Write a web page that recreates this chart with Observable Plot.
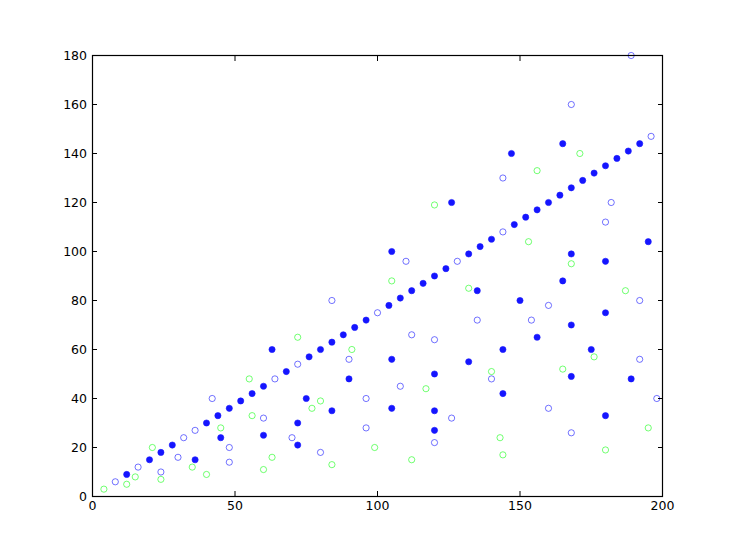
<!DOCTYPE html>
<html><head><meta charset="utf-8">
<script src="https://cdn.jsdelivr.net/npm/d3@7"></script>
<script src="https://cdn.jsdelivr.net/npm/@observablehq/plot@0.6"></script>
<style>body{margin:0;background:#fff} #chart svg{font-family:"DejaVu Sans";}</style>
</head><body><div id="chart"></div>
<script>
// Green open circles
const greenX = [4,12,15,24,21,40,35,60,45,56,84,63,55,80,112,77,72,144,99,91,140,180,117,105,132,176,143,120,168,165,153,156,195,187,171];
const greenY = [3,5,8,7,20,9,12,11,28,33,13,16,48,39,15,36,65,17,20,60,51,19,44,88,85,57,24,119,95,52,104,133,28,84,140];
// Blue open circles
const openX = [8,16,32,36,64,72,100,128,144,196, 24,48,96,108,192, 30,60,120,135, 48,96,192, 42,84,168,189, 80,160, 70,140, 120, 90,180, 112, 168, 126, 110, 160, 144, 154, 198, 182];
const openY = [6,12,24,27,48,54,75,96,108,147, 10,20,40,45,80, 16,32,64,72, 14,28,56, 40,80,160,180, 18,36, 24,48, 22, 56,112, 66, 26, 32, 96, 78, 130, 72, 40, 120];
// Blue filled circles
const filledX = [12,20,24,28,40,44,48,52,56,60,68,76,80,84,88,92,96,104,108,112,116,120,124,132,136,140,148,152,156,160,164,168,172,176,180,184,188,192,
  36,60,72,84,120,132,144,156,168,180, 45,75,90,105,150,165,180,195, 72,120,144,168, 63,105,126,147, 120, 105,175, 180, 135, 168, 189, 165];
const filledY = [9,15,18,21,30,33,36,39,42,45,51,57,60,63,66,69,72,78,81,84,87,90,93,99,102,105,111,114,117,120,123,126,129,132,135,138,141,144,
  15,25,30,35,50,55,60,65,70,75, 24,40,48,56,80,88,96,104, 21,35,42,49, 60,100,120,140, 27, 36,60, 33, 84, 99, 48, 144];

const xTicks = [0,50,100,150,200];
const yTicks = [0,20,40,60,80,100,120,140,160,180];

const toRows = (xs, ys) => xs.map((x, i) => ({x, y: ys[i]}));
const green = toRows(greenX, greenY);
const open = toRows(openX, openY);
const filled = toRows(filledX, filledY);

const chart = Plot.plot({
  width: 736, height: 552,
  marginLeft: 92, marginRight: 74, marginTop: 55, marginBottom: 56,
  style: {fontFamily: "DejaVu Sans", fontSize: "12.5px", background: "white", color: "black"},
  x: {domain: [0, 200], label: null},
  y: {domain: [0, 180], label: null},
  marks: [
    Plot.dot(green, {x: "x", y: "y", r: 3.1, fill: "none", stroke: "#00ff00", strokeOpacity: 0.55, strokeWidth: 1}),
    Plot.dot(open, {x: "x", y: "y", r: 3.1, fill: "none", stroke: "#0000ff", strokeOpacity: 0.55, strokeWidth: 1}),
    Plot.dot(filled, {x: "x", y: "y", r: 3.1, fill: "#1515ff", stroke: "#1515ff", strokeWidth: 0.6}),
    Plot.frame({stroke: "black", strokeWidth: 1.2}),
    Plot.axisX({anchor: "bottom", ticks: xTicks, tickSize: -5, tickPadding: 9.5, tickFormat: d => String(d), stroke: "black"}),
    Plot.axisX({anchor: "top", ticks: xTicks, tickSize: -5, tickFormat: () => "", stroke: "black"}),
    Plot.axisY({anchor: "left", ticks: yTicks, tickSize: -5, tickPadding: 10.5, tickFormat: d => String(d), stroke: "black"}),
    Plot.axisY({anchor: "right", ticks: yTicks, tickSize: -5, tickFormat: () => "", stroke: "black"})
  ]
});
document.getElementById("chart").appendChild(chart);
</script>
</body></html>
